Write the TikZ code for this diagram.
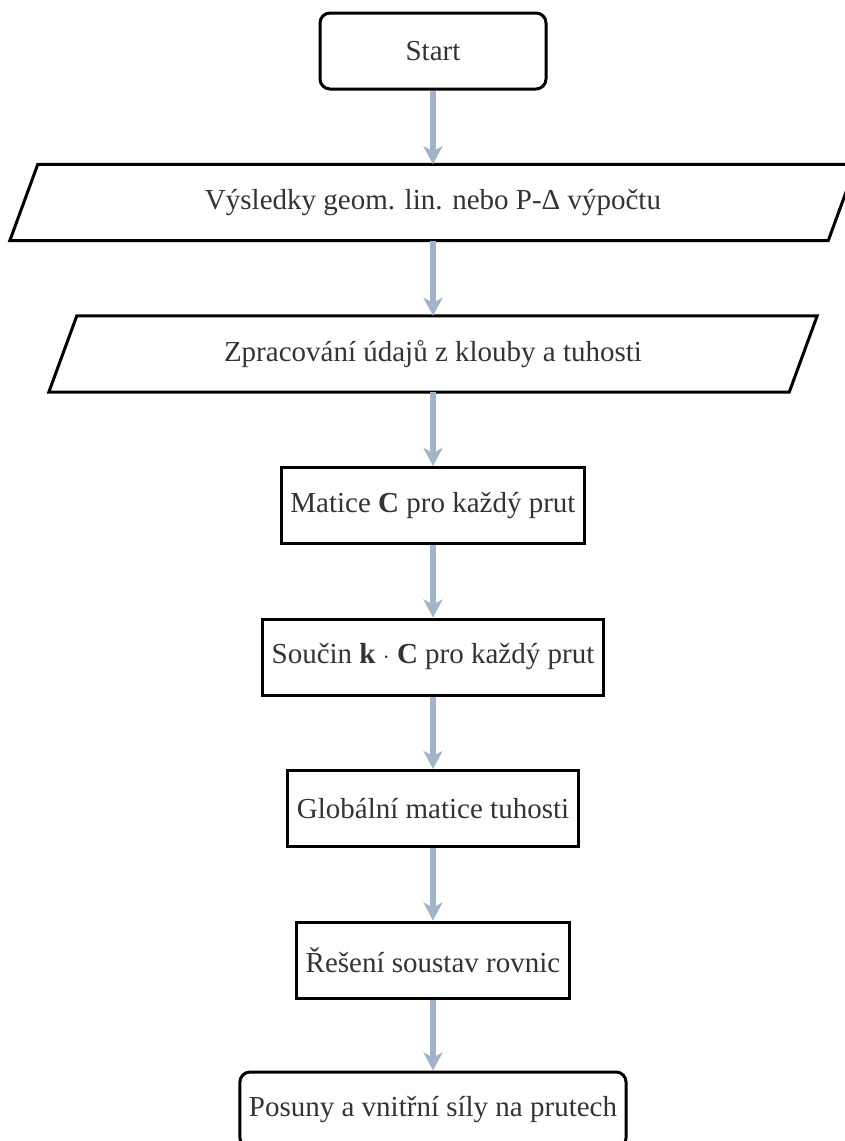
\documentclass[tikz,border=0pt]{standalone}
\usepackage{fontspec}
\setmainfont{Liberation Serif}
\usetikzlibrary{arrows.meta}
\definecolor{arrowcol}{RGB}{163,179,201}
\definecolor{txtcol}{RGB}{51,51,51}
\begin{document}
\begin{tikzpicture}[x=1pt,y=-1pt,
  every node/.style={font=\fontsize{29}{34}\selectfont, text=txtcol},
  procbox/.style={draw=black, line width=3pt, minimum height=76pt, inner xsep=9pt, inner ysep=0pt},
  termbox/.style={procbox, rounded corners=10pt},
  iobox/.style={draw=none, minimum height=76pt, inner sep=0pt},
  ioline/.style={draw=black, line width=3pt, line join=miter},
  flow/.style={draw=arrowcol, line width=6pt, -{Stealth[length=18pt,width=19pt,inset=5pt]}},
]
\useasboundingbox (0,0) rectangle (844,1141);
\node[termbox, minimum width=226pt] (start) at (433,51) {Start};
\node[iobox, minimum width=818pt] (p1) at (433,202.5) {Výsledky geom. lin. nebo P-Δ výpočtu};
\draw[ioline] ([xshift=14pt]p1.north west) -- ([xshift=14pt]p1.north east) -- ([xshift=-14pt]p1.south east) -- ([xshift=-14pt]p1.south west) -- cycle;
\node[iobox, minimum width=740pt] (p2) at (433,354) {Zpracování údajů z klouby a tuhosti};
\draw[ioline] ([xshift=14pt]p2.north west) -- ([xshift=14pt]p2.north east) -- ([xshift=-14pt]p2.south east) -- ([xshift=-14pt]p2.south west) -- cycle;
\node[procbox] (c) at (433,505.5) {Matice \textbf{C} pro každý prut};
\node[procbox] (kc) at (433,657) {Součin \textbf{k} $\cdot$ \textbf{C} pro každý prut};
\node[procbox] (k) at (433,808.5) {Globální matice tuhosti};
\node[procbox] (r) at (433,960) {Řešení soustav rovnic};
\node[termbox] (end) at (433,1110) {Posuny a vnitřní síly na prutech};
\draw[flow] (start) -- (p1);
\draw[flow] (p1) -- (p2);
\draw[flow] (p2) -- (c);
\draw[flow] (c) -- (kc);
\draw[flow] (kc) -- (k);
\draw[flow] (k) -- (r);
\draw[flow] (r) -- (end);
\end{tikzpicture}
\end{document}
